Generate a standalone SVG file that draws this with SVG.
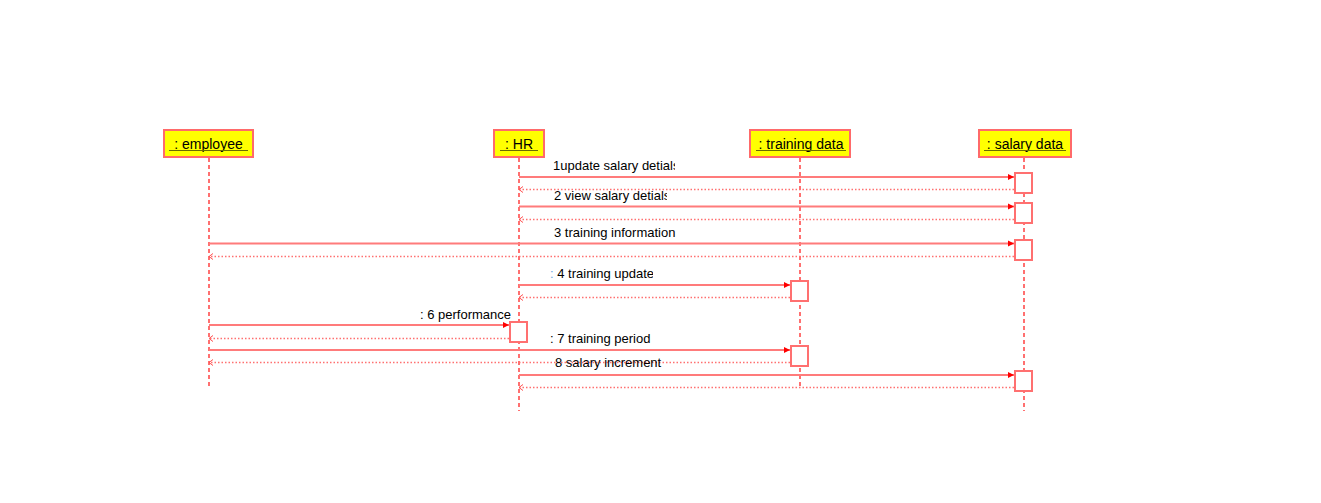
<svg xmlns="http://www.w3.org/2000/svg" width="1321" height="503" viewBox="0 0 1321 503">
<style>
.hdr{fill:#ffff00;stroke:#ff6a6a;stroke-width:2}
.hl{font-family:"Liberation Sans",Arial,sans-serif;font-size:14px;fill:#000}
.ul{stroke:#6b6b00;stroke-width:1}
.life{stroke:#ff7070;stroke-width:2;stroke-dasharray:4 3;fill:none}
.act{fill:#fff;stroke:#ff7070;stroke-width:2}
.msg{stroke:#ff7b7b;stroke-width:2;fill:none;marker-end:url(#ah)}
.ret{stroke:#ff7070;stroke-width:1.5;stroke-dasharray:1.5 2;fill:none;marker-end:url(#oh)}
.lbl{font-family:"Liberation Sans",Arial,sans-serif;font-size:13px;fill:#000}
</style>
<defs>
<marker id="ah" markerUnits="userSpaceOnUse" markerWidth="8" markerHeight="8" refX="7" refY="4" orient="auto">
<path d="M1,1 L7,4 L1,7 Z" fill="#ff0000"/>
</marker>
<marker id="oh" markerUnits="userSpaceOnUse" markerWidth="8" markerHeight="8" refX="6" refY="4" orient="auto">
<path d="M2,1 L6,4 L2,7" fill="none" stroke="#ff5050" stroke-width="1"/>
</marker>
<clipPath id="c1"><rect x="540" y="150" width="135" height="30"/></clipPath>
<clipPath id="c2"><rect x="540" y="185" width="127" height="20"/></clipPath>
<clipPath id="c4"><rect x="540" y="262" width="113" height="20"/></clipPath>
<clipPath id="c6"><rect x="400" y="303" width="111" height="20"/></clipPath>
<clipPath id="c7"><rect x="540" y="327" width="113" height="20"/></clipPath>
</defs>

<g id="employee">
<rect class="hdr" x="164" y="130" width="89" height="27"/>
<text class="hl" x="208.5" y="148.5" text-anchor="middle">: employee</text>
<line class="ul" x1="169" y1="150.5" x2="248" y2="150.5"/>
<line class="life" x1="209" y1="158" x2="209" y2="387"/>
</g>
<g id="hr">
<rect class="hdr" x="494" y="130" width="50" height="27"/>
<text class="hl" x="519" y="148.5" text-anchor="middle">: HR</text>
<line class="ul" x1="500" y1="150.5" x2="538" y2="150.5"/>
<line class="life" x1="519" y1="158" x2="519" y2="411"/>
</g>
<g id="training_data">
<rect class="hdr" x="750" y="130" width="100" height="27"/>
<text class="hl" x="801" y="148.5" text-anchor="middle">: training data</text>
<line class="ul" x1="756" y1="150.5" x2="846" y2="150.5"/>
<line class="life" x1="800" y1="158" x2="800" y2="387"/>
</g>
<g id="salary_data">
<rect class="hdr" x="979" y="130" width="92" height="27"/>
<text class="hl" x="1025" y="148.5" text-anchor="middle">: salary data</text>
<line class="ul" x1="984" y1="150.5" x2="1066" y2="150.5"/>
<line class="life" x1="1024" y1="158" x2="1024" y2="411"/>
</g>

<g id="activations">
<rect class="act" x="1015" y="173" width="17" height="20"/>
<rect class="act" x="1015" y="203" width="17" height="20"/>
<rect class="act" x="1015" y="240" width="17" height="20"/>
<rect class="act" x="791" y="281" width="17" height="20"/>
<rect class="act" x="510" y="322" width="17" height="20"/>
<rect class="act" x="791" y="346" width="17" height="20"/>
<rect class="act" x="1015" y="371" width="17" height="20"/>
</g>

<g id="connectors">
<line class="msg" x1="519" y1="177" x2="1014" y2="177"/>
<line class="ret" x1="1014" y1="189.5" x2="519" y2="189.5"/>
<line class="msg" x1="519" y1="206.5" x2="1014" y2="206.5"/>
<line class="ret" x1="1014" y1="219.5" x2="519" y2="219.5"/>
<line class="msg" x1="209" y1="243.5" x2="1014" y2="243.5"/>
<line class="ret" x1="1014" y1="256.5" x2="209" y2="256.5"/>
<line class="msg" x1="519" y1="285" x2="790" y2="285"/>
<line class="ret" x1="790" y1="297.5" x2="519" y2="297.5"/>
<line class="msg" x1="209" y1="325" x2="509" y2="325"/>
<line class="ret" x1="509" y1="338.5" x2="209" y2="338.5"/>
<line class="msg" x1="209" y1="350" x2="790" y2="350"/>
<line class="ret" x1="790" y1="362.5" x2="209" y2="362.5"/>
<line class="msg" x1="519" y1="375" x2="1014" y2="375"/>
<line class="ret" x1="1014" y1="387.5" x2="519" y2="387.5"/>
</g>

<g id="labels">
<text class="lbl" x="553" y="170" clip-path="url(#c1)">1update salary detials</text>
<text class="lbl" x="554" y="200" clip-path="url(#c2)">2 view salary detials</text>
<text class="lbl" x="554" y="237">3 training information</text>
<text class="lbl" x="550" y="278" clip-path="url(#c4)"><tspan fill="#6aa6e0">:</tspan> 4 training update</text>
<text class="lbl" x="420" y="319" clip-path="url(#c6)">: 6 performance</text>
<text class="lbl" x="550" y="343" clip-path="url(#c7)">: 7 training period</text>
<text class="lbl" x="555" y="367">8 salary increment</text>
</g>
</svg>
